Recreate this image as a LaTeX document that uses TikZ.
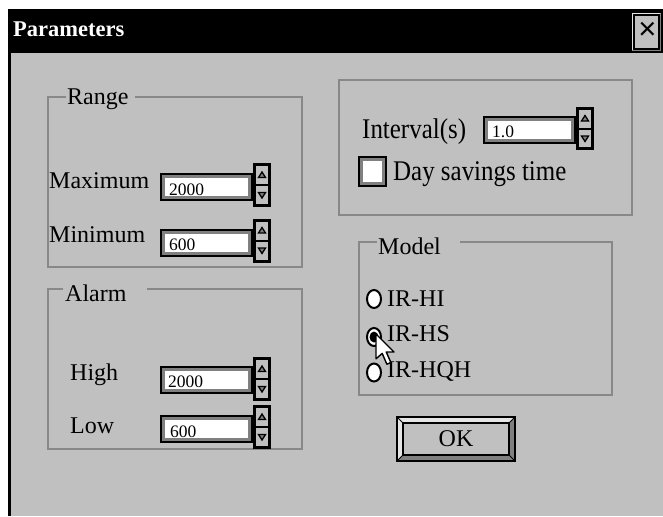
\documentclass[tikz,border=0pt]{standalone}
\usepackage{fontspec}
\setmainfont{Liberation Serif}
\newfontfamily\xsans{Liberation Sans}
\usetikzlibrary{shapes.geometric}
\definecolor{winbg}{HTML}{C0C0C0}
\definecolor{grpline}{HTML}{888888}
\definecolor{dkgray}{HTML}{808080}
\definecolor{ltgray}{HTML}{E4E4E4}
\tikzset{
  lbl/.style={inner sep=0pt, anchor=base west, font=\fontsize{24}{24}\selectfont},
  biglbl/.style={inner sep=0pt, anchor=base west, font=\fontsize{28.5}{28.5}\selectfont},
  val/.style={inner sep=0pt, anchor=base west, font=\fontsize{17.5}{17.5}\selectfont},
  grp/.style={draw=grpline, line width=1.5pt},
  tbox/.style={draw=black, line width=2pt, fill=white, inner sep=0pt,
    minimum width=91pt, minimum height=26pt,
    path picture={\draw[dkgray,line width=8pt] (path picture bounding box.south west) rectangle (path picture bounding box.north east);}},
  spinbtn/.style={draw=black, line width=3pt, fill=winbg, inner sep=0pt,
    minimum width=15pt, minimum height=41pt},
  tri/.style={draw=black, line width=1.3pt, fill=dkgray, line join=miter},
  radio/.style={ellipse, draw=black, line width=2pt, fill=white, inner sep=0pt,
    minimum width=14pt, minimum height=18pt},
}
\newcommand\spinarrows[1]{%
  \draw[line width=2pt] (#1.west) -- (#1.east);
  \draw[tri] ([shift={(-3.5,-7.5)}]#1.center) -- ([shift={(3.5,-7.5)}]#1.center) -- ([shift={(0,-13)}]#1.center) -- cycle;
  \draw[tri] ([shift={(-3.5,7.5)}]#1.center) -- ([shift={(3.5,7.5)}]#1.center) -- ([shift={(0,13)}]#1.center) -- cycle;
}
\begin{document}
\begin{tikzpicture}[x=1pt,y=-1pt]
\useasboundingbox (0,0) rectangle (663,516);
\fill[white] (0,0) rectangle (663,516);
% window
\fill[black] (8,9) rectangle (663,53);
\fill[winbg] (8,53) rectangle (663,516);
\fill[black] (8,53) rectangle (11,516);
\node[inner sep=0pt, anchor=base west, text=white, font=\bfseries\fontsize{22.5}{22.5}\selectfont] (title) at (13,37) {Parameters};
% close button
\fill[ltgray] (631,12) -- (662,12) -- (659,15) -- (634,15) -- (634,49) -- (631,52) -- cycle;
\fill[dkgray] (662,12) -- (662,52) -- (631,52) -- (634,49) -- (659,49) -- (659,15) -- cycle;
\node[draw=black, line width=1.5pt, fill=winbg, minimum width=25pt, minimum height=34pt, inner sep=0pt] (close) at (646.5,32) {};
\draw[black, line width=1.5pt] (631,12) rectangle (662,52);
\node[inner sep=0pt, font=\xsans\fontsize{31}{31}\selectfont] (closex) at (647.5,30.5) {×};

% Range group
\draw[grp] (66,97) -- (48,97) -- (48,267) -- (302,267) -- (302,97) -- (135,97);
\node[lbl] (range) at (67,104) {Range};
\node[lbl] (maxl) at (49,188) {Maximum};
\node[lbl] (minl) at (49,242) {Minimum};
\node[tbox] (tmax) at (206.5,187) {};
\node[tbox] (tmin) at (206.5,243) {};
\node[val] (vmax) at (169,195) {2000};
\node[val] (vmin) at (169,250) {600};
\node[spinbtn] (smax) at (262,185) {};
\spinarrows{smax}
\node[spinbtn] (smin) at (262,240.5) {};
\spinarrows{smin}

% Alarm group
\draw[grp] (63,289) -- (48,289) -- (48,449) -- (302,449) -- (302,289) -- (147,289);
\node[lbl] (alarm) at (65,301) {Alarm};
\node[lbl] (highl) at (70,380) {High};
\node[lbl] (lowl) at (70,433) {Low};
\node[tbox] (thigh) at (206.5,380) {};
\node[tbox] (tlow) at (206.5,428.5) {};
\node[val] (vhigh) at (168,387) {2000};
\node[val] (vlow) at (170,437) {600};
\node[spinbtn] (shigh) at (262,379) {};
\spinarrows{shigh}
\node[spinbtn] (slow) at (262,427) {};
\spinarrows{slow}

% Interval group
\draw[grp] (339,80) rectangle (632,215);
\node[biglbl] (intl) at (362,138) {\scalebox{0.875}[1]{Interval(s)}};
\node[tbox] (tint) at (529.5,130) {};
\node[val] (vint) at (492,137) {1.0};
\node[spinbtn, minimum height=40pt] (sint) at (585,128.5) {};
\spinarrows{sint}
\node[tbox, minimum width=27pt, minimum height=29pt] (chk) at (372.5,171.5) {};
\node[biglbl] (dst) at (393,180) {\scalebox{0.875}[1]{Day savings time}};

% Model group
\draw[grp] (377,242) -- (359,242) -- (359,395) -- (612,395) -- (612,242) -- (460,242);
\node[lbl] (model) at (378,254) {Model};
\node[radio] (r1) at (374,299) {};
\node[radio] (r2) at (374,337) {};
\node[radio] (r3) at (374,372.5) {};
\node[ellipse, fill=black, inner sep=0pt, minimum width=9pt, minimum height=11pt] (r2dot) at (r2) {};
\node[lbl] (ir1) at (387,306) {IR-HI};
\node[lbl] (ir2) at (387,341) {IR-HS};
\node[lbl] (ir3) at (387,377) {IR-HQH};

% cursor
\begin{scope}[shift={(376,334)}, scale=1.55]
\filldraw[fill=white, draw=black, line width=1.4pt, line join=round]
  (0,0) -- (0,16) -- (4,12.5) -- (7,19.5) -- (9.6,18.4) -- (6.6,11.6) -- (11.6,11.6) -- cycle;
\end{scope}

% OK button
\fill[ltgray] (397,417) -- (515,417) -- (509,423) -- (403,423) -- (403,455) -- (397,461) -- cycle;
\fill[dkgray] (515,417) -- (515,461) -- (397,461) -- (403,455) -- (509,455) -- (509,423) -- cycle;
\draw[black, line width=1pt] (397,417) -- (403,423) (515,417) -- (509,423) (397,461) -- (403,455) (515,461) -- (509,455);
\draw[black, line width=2pt] (397,417) rectangle (515,461);
\node[draw=black, line width=2pt, fill=winbg, minimum width=106pt, minimum height=32pt, inner sep=0pt, font=\fontsize{24}{24}\selectfont] (ok) at (456,439) {OK};
\end{tikzpicture}
\end{document}
